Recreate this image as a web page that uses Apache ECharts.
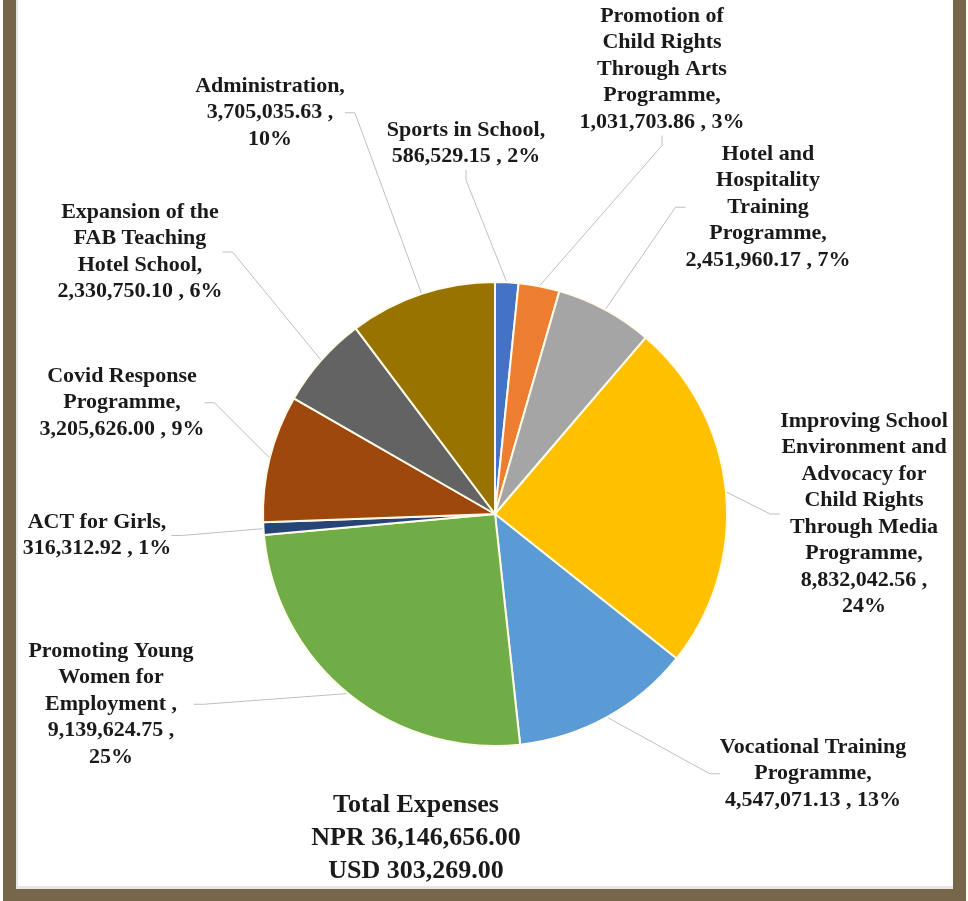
<!DOCTYPE html>
<html>
<head>
<meta charset="utf-8">
<script src="https://cdn.jsdelivr.net/npm/echarts@6/dist/echarts.min.js"></script>
<style>
html,body{margin:0;padding:0;background:#fff;}
#chart{width:968px;height:901px;}
</style>
</head>
<body>
<div id="chart"></div>
<script>
// ---- data ----
const categories = [
  'Sports in School',
  'Promotion of\nChild Rights\nThrough Arts\nProgramme',
  'Hotel and\nHospitality\nTraining\nProgramme',
  'Improving School\nEnvironment and\nAdvocacy for\nChild Rights\nThrough Media\nProgramme',
  'Vocational Training\nProgramme',
  'Promoting Young\nWomen for\nEmployment ',
  'ACT for Girls',
  'Covid Response\nProgramme',
  'Expansion of the\nFAB Teaching\nHotel School',
  'Administration'
];
const values = [586529.15, 1031703.86, 2451960.17, 8832042.56, 4547071.13, 9139624.75, 316312.92, 3205626.00, 2330750.10, 3705035.63];
const totalLines = ['Total Expenses', 'NPR 36,146,656.00', 'USD 303,269.00'];

// ---- styling / layout ----
const colors = ['#4472C4', '#ED7D31', '#A5A5A5', '#FFC000', '#5B9BD5', '#70AD47', '#264478', '#9E480E', '#636363', '#997300'];
const labelPos = [
  {x: 466, y: 117, brk: false},
  {x: 662, y: 3, brk: false},
  {x: 768, y: 141, brk: false},
  {x: 864, y: 408, brk: true},
  {x: 813, y: 734, brk: false},
  {x: 111, y: 638, brk: true},
  {x: 97, y: 509, brk: false},
  {x: 122, y: 363, brk: false},
  {x: 140, y: 199, brk: false},
  {x: 270, y: 73, brk: true}
];

const chart = echarts.init(document.getElementById('chart'), null, {renderer: 'canvas'});
const fmtNum = v => v.toLocaleString('en-US', {minimumFractionDigits: 2, maximumFractionDigits: 2});
const brown = '#76664A';

chart.setOption({
  animation: false,
  color: colors,
  graphic: [
    {type: 'rect', shape: {x: 3, y: 0, width: 13, height: 901}, style: {fill: brown}, z: 100},
    {type: 'rect', shape: {x: 953, y: 0, width: 13, height: 901}, style: {fill: brown}, z: 100},
    {type: 'rect', shape: {x: 3, y: 889, width: 963, height: 12}, style: {fill: brown}, z: 100},
    {type: 'rect', shape: {x: 16, y: 0, width: 2, height: 889}, style: {fill: '#e6e6e6'}, z: 99},
    {type: 'rect', shape: {x: 18, y: 886, width: 935, height: 3}, style: {fill: '#e6e6e6'}, z: 99},
    {type: 'text', x: 416, y: 789,
      style: {text: totalLines.join('\n'), x: 0, y: 0, textAlign: 'center', textVerticalAlign: 'top',
        font: 'bold 26px "Liberation Serif", "Times New Roman", serif', lineHeight: 33, fill: '#1a1a1a'}}
  ],
  series: [{
    type: 'pie',
    center: [495, 514],
    radius: 232,
    startAngle: 90,
    clockwise: true,
    avoidLabelOverlap: false,
    itemStyle: {borderColor: '#fffbe8', borderWidth: 2},
    label: {
      show: true,
      fontFamily: '"Liberation Serif", "Times New Roman", serif',
      fontWeight: 'bold',
      fontSize: 22,
      lineHeight: 26.5,
      color: '#1a1a1a',
      align: 'center',
      formatter: p => {
        const lp = labelPos[p.dataIndex];
        return p.name + ',\n' + fmtNum(p.value) + ' ,' + (lp.brk ? '\n' : ' ') + Math.round(p.percent) + '%';
      }
    },
    labelLine: {show: true, length: 20, length2: 10, smooth: false, lineStyle: {color: '#bfbfbf', width: 1}},
    labelLayout: p => {
      const lp = labelPos[p.dataIndex];
      return {x: lp.x, y: lp.y, align: 'center', verticalAlign: 'top'};
    },
    emphasis: {disabled: true},
    data: categories.map((c, i) => ({name: c, value: values[i]}))
  }]
});
</script>
</body>
</html>
